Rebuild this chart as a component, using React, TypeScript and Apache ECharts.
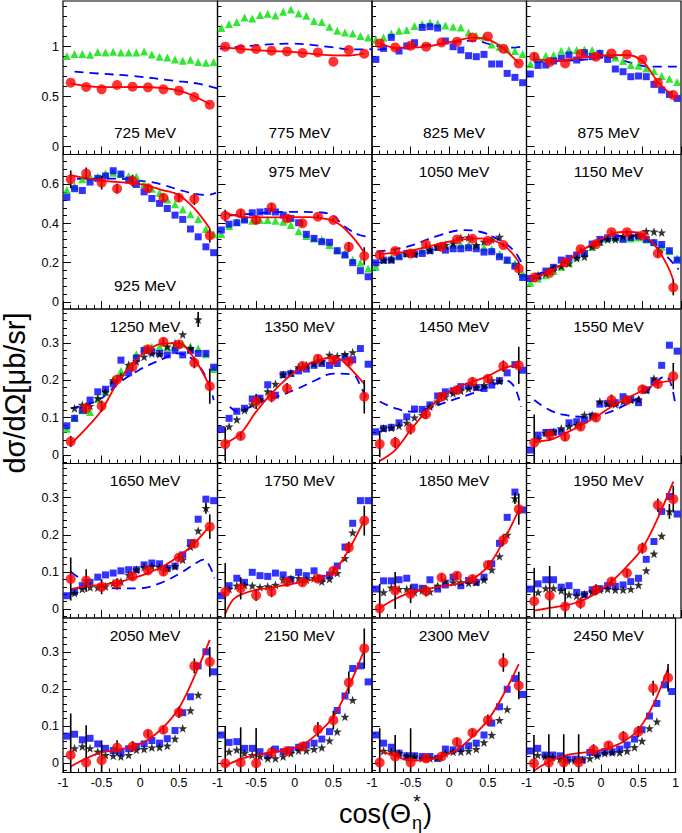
import React, { useEffect, useRef } from 'react';
import * as echarts from 'echarts';

const FONT = "'Liberation Sans', Arial, Helvetica, sans-serif";

const energies = ['725 MeV', '775 MeV', '825 MeV', '875 MeV', '925 MeV', '975 MeV', '1050 MeV', '1150 MeV',
  '1250 MeV', '1350 MeV', '1450 MeV', '1550 MeV', '1650 MeV', '1750 MeV', '1850 MeV', '1950 MeV',
  '2050 MeV', '2150 MeV', '2300 MeV', '2450 MeV'];
const labelAtBottom = [true, true, true, true, true, false, false, false, false, false, false, false, false, false, false, false, false, false, false, false];

const redX = [-0.9, -0.7, -0.5, -0.3, -0.1, 0.1, 0.3, 0.5, 0.7, 0.9];
const binX = [-0.95, -0.85, -0.75, -0.65, -0.55, -0.45, -0.35, -0.25, -0.15, -0.05, 0.05, 0.15, 0.25, 0.35, 0.45, 0.55, 0.65, 0.75, 0.85, 0.95];
const starX = [-0.85, -0.75, -0.65, -0.55, -0.45, -0.35, -0.25, -0.15, -0.05, 0.05, 0.15, 0.25, 0.35, 0.45, 0.55, 0.65, 0.75, 0.85];

const xMajorTicks = [-1, -0.5, 0, 0.5, 1];
const xMinorTicks = [-0.9, -0.8, -0.7, -0.6, -0.4, -0.3, -0.2, -0.1, 0.1, 0.2, 0.3, 0.4, 0.6, 0.7, 0.8, 0.9];
const xTickLabels = [-1, -0.5, 0, 0.5];
const xTickLabelsLast = [-1, -0.5, 0, 0.5, 1];
const yTickLabels = [[0, 0.5, 1], [0, 0.2, 0.4, 0.6], [0, 0.1, 0.2, 0.3], [0, 0.1, 0.2, 0.3], [0, 0.1, 0.2, 0.3]];
const yMinorStep = [0.1, 0.04, 0.02, 0.02, 0.02];
const yRange = [[-0.078, 1.457], [-0.037, 0.753], [-0.023, 0.391], [-0.024, 0.392], [-0.025, 0.391]];

// red circles (this work)
const redY = [
  [0.64, 0.597, 0.574, 0.617, 0.6, 0.594, 0.574, 0.56, 0.497, 0.42],
  [1.0, 0.977, 0.977, 0.96, 0.953, 0.937, 0.943, 0.85, 0.967, 0.93],
  [1.033, 0.993, 1.01, 1.0, 1.043, 1.05, 1.093, 1.103, 0.98, 0.833],
  [0.9, 0.847, 0.833, 0.927, 0.9, 0.933, 0.923, 0.873, 0.64, 0.517],
  [0.626, 0.656, 0.609, 0.578, 0.619, 0.58, 0.532, 0.532, 0.525, 0.339],
  [0.44, 0.452, 0.418, 0.483, 0.426, 0.401, 0.435, 0.418, 0.281, 0.234],
  [0.239, 0.259, 0.247, 0.293, 0.281, 0.319, 0.322, 0.312, 0.29, 0.17],
  [0.124, 0.148, 0.201, 0.269, 0.295, 0.356, 0.356, 0.339, 0.247, 0.073],
  [0.036, 0.125, 0.131, 0.202, 0.236, 0.283, 0.303, 0.296, 0.247, 0.184],
  [0.029, 0.051, 0.143, 0.156, 0.178, 0.238, 0.258, 0.254, 0.25, 0.156],
  [0.029, 0.033, 0.07, 0.109, 0.156, 0.174, 0.196, 0.204, 0.238, 0.24],
  [0.033, 0.054, 0.049, 0.076, 0.1, 0.147, 0.147, 0.176, 0.19, 0.211],
  [0.081, 0.077, 0.06, 0.068, 0.088, 0.104, 0.101, 0.139, 0.176, 0.222],
  [0.046, 0.056, 0.037, 0.047, 0.073, 0.072, 0.082, 0.103, 0.166, 0.238],
  [0.002, 0.05, 0.041, 0.049, 0.085, 0.09, 0.081, 0.119, 0.186, 0.269],
  [0.021, 0.036, 0.007, 0.016, 0.052, 0.074, 0.097, 0.164, 0.28, 0.296],
  [0.022, 0.002, 0.008, 0.042, 0.045, 0.079, 0.09, 0.137, 0.262, 0.273],
  [0.0, 0.002, 0.0, 0.029, 0.033, 0.045, 0.091, 0.116, 0.217, 0.309],
  [0.002, 0.018, 0.002, 0.013, 0.018, 0.057, 0.082, 0.116, 0.271, 0.209],
  [0.0, 0.002, 0.002, 0.002, 0.036, 0.048, 0.072, 0.085, 0.202, 0.23],
];

const redErr = [
  [0, 0, 0, 0, 0, 0, 0, 0, 0, 0],
  [0, 0, 0, 0, 0, 0, 0, 0, 0, 0],
  [0, 0, 0, 0, 0, 0, 0, 0, 0, 0],
  [0.04, 0, 0, 0, 0, 0, 0, 0, 0, 0],
  [0.045, 0.03, 0.035, 0.025, 0.03, 0.02, 0.02, 0.02, 0.03, 0.036],
  [0.03, 0.02, 0.02, 0.02, 0.015, 0.015, 0.01, 0.01, 0.025, 0.045],
  [0.02, 0.01, 0.01, 0.01, 0.01, 0.01, 0.01, 0.01, 0.01, 0.034],
  [0.01, 0.01, 0.01, 0.01, 0.01, 0.01, 0.01, 0.01, 0.02, 0.04],
  [0.015, 0.015, 0.015, 0.01, 0.01, 0.01, 0.01, 0.01, 0.015, 0.047],
  [0.045, 0.01, 0.02, 0.015, 0.015, 0.01, 0.01, 0.01, 0.01, 0.045],
  [0.035, 0.015, 0.015, 0.012, 0.01, 0.01, 0.01, 0.01, 0.015, 0.05],
  [0.075, 0.015, 0.012, 0.01, 0.01, 0.015, 0.01, 0.01, 0.01, 0.035],
  [0.058, 0.03, 0.02, 0.015, 0.01, 0.01, 0.01, 0.01, 0.01, 0.033],
  [0.078, 0.03, 0.015, 0.015, 0.01, 0.01, 0.01, 0.01, 0.015, 0.04],
  [0.066, 0.05, 0.025, 0.015, 0.01, 0.01, 0.01, 0.01, 0.015, 0.042],
  [0.09, 0.08, 0.05, 0.015, 0.015, 0.01, 0.01, 0.015, 0.018, 0.036],
  [0.112, 0.1, 0.053, 0.02, 0.015, 0.01, 0.01, 0.015, 0.02, 0.04],
  [0.1, 0.095, 0.095, 0.015, 0.01, 0.01, 0.02, 0.025, 0.03, 0.054],
  [0.092, 0.058, 0.092, 0.01, 0.01, 0.01, 0.01, 0.015, 0.025, 0.037],
  [0.076, 0.076, 0.076, 0.076, 0.015, 0.01, 0.015, 0.015, 0.02, 0.037],
];

// red solid fit curves
const redFit = [
  [[-0.9, 0.63], [-0.5, 0.595], [0, 0.597], [0.3, 0.585], [0.5, 0.56], [0.7, 0.505], [0.9, 0.425]],
  [[-0.9, 0.99], [-0.5, 0.965], [0, 0.945], [0.5, 0.913], [0.7, 0.912], [0.9, 0.933]],
  [[-0.9, 1.04], [-0.7, 0.99], [-0.5, 0.99], [-0.3, 1.0], [-0.1, 1.03], [0.1, 1.06], [0.3, 1.09], [0.5, 1.073], [0.7, 0.983], [0.9, 0.833]],
  [[-0.9, 0.873], [-0.6, 0.86], [-0.3, 0.89], [0, 0.912], [0.3, 0.917], [0.5, 0.857], [0.7, 0.65], [0.9, 0.5]],
  [[-0.9, 0.648], [-0.5, 0.619], [0, 0.602], [0.3, 0.57], [0.5, 0.545], [0.7, 0.477], [0.9, 0.375]],
  [[-0.9, 0.455], [-0.6, 0.432], [-0.2, 0.432], [0.2, 0.433], [0.45, 0.42], [0.6, 0.39], [0.75, 0.33], [0.85, 0.28], [0.9, 0.25]],
  [[-0.9, 0.244], [-0.55, 0.256], [-0.3, 0.28], [0.1, 0.315], [0.4, 0.324], [0.7, 0.29], [0.9, 0.204]],
  [[-0.93, 0.123], [-0.7, 0.153], [-0.4, 0.23], [-0.14, 0.298], [0.12, 0.349], [0.3, 0.358], [0.47, 0.349], [0.64, 0.298], [0.81, 0.196], [0.9, 0.111]],
  [[-0.9, 0.029], [-0.7, 0.071], [-0.5, 0.12], [-0.3, 0.192], [-0.1, 0.245], [0.1, 0.281], [0.3, 0.299], [0.5, 0.299], [0.7, 0.258], [0.9, 0.183]],
  [[-0.9, 0.031], [-0.7, 0.058], [-0.5, 0.116], [-0.3, 0.165], [-0.1, 0.205], [0.1, 0.236], [0.3, 0.254], [0.5, 0.261], [0.6, 0.255], [0.75, 0.225], [0.9, 0.19]],
  [[-0.9, -0.016], [-0.7, 0.013], [-0.5, 0.067], [-0.3, 0.116], [-0.1, 0.156], [0.1, 0.181], [0.3, 0.196], [0.5, 0.211], [0.7, 0.232], [0.9, 0.242]],
  [[-0.9, 0.036], [-0.7, 0.04], [-0.5, 0.058], [-0.3, 0.078], [-0.1, 0.102], [0.1, 0.129], [0.3, 0.152], [0.5, 0.172], [0.7, 0.192], [0.9, 0.2]],
  [[-0.9, 0.054], [-0.7, 0.061], [-0.5, 0.065], [-0.3, 0.072], [-0.1, 0.083], [0.1, 0.097], [0.3, 0.116], [0.5, 0.142], [0.7, 0.177], [0.9, 0.224]],
  [[-0.9, -0.013], [-0.8, 0.025], [-0.7, 0.039], [-0.5, 0.052], [-0.3, 0.058], [-0.1, 0.065], [0.1, 0.074], [0.3, 0.083], [0.5, 0.101], [0.7, 0.16], [0.9, 0.24]],
  [[-0.9, 0.003], [-0.7, 0.027], [-0.5, 0.045], [-0.3, 0.054], [-0.1, 0.061], [0.1, 0.068], [0.3, 0.081], [0.5, 0.115], [0.7, 0.182], [0.9, 0.267]],
  [[-0.9, -0.004], [-0.7, 0.003], [-0.5, 0.01], [-0.3, 0.021], [-0.1, 0.043], [0.1, 0.074], [0.3, 0.115], [0.5, 0.164], [0.7, 0.245], [0.9, 0.343]],
  [[-0.9, -0.009], [-0.7, 0.013], [-0.5, 0.029], [-0.3, 0.036], [-0.1, 0.045], [0.1, 0.063], [0.3, 0.097], [0.5, 0.148], [0.7, 0.233], [0.9, 0.332]],
  [[-0.9, -0.007], [-0.7, 0.011], [-0.5, 0.022], [-0.3, 0.029], [-0.1, 0.036], [0.1, 0.049], [0.3, 0.081], [0.5, 0.125], [0.7, 0.206], [0.9, 0.305]],
  [[-0.9, 0.033], [-0.7, 0.02], [-0.5, 0.007], [-0.3, 0.009], [-0.1, 0.018], [0.1, 0.036], [0.3, 0.072], [0.5, 0.116], [0.7, 0.184], [0.9, 0.267]],
  [[-0.9, -0.02], [-0.7, 0.004], [-0.5, 0.02], [-0.3, 0.027], [-0.1, 0.032], [0.1, 0.041], [0.3, 0.058], [0.5, 0.09], [0.7, 0.157], [0.9, 0.255]],
];

// blue dashed model curves (first 13 panels)
const blueDashed = [
  [[-0.85, 0.75], [-0.5, 0.73], [-0.09, 0.707], [0.43, 0.66], [0.75, 0.63], [1.0, 0.584]],
  [[-0.97, 0.98], [-0.45, 1.017], [-0.03, 1.03], [0.5, 0.993], [0.72, 0.973], [1.0, 0.975]],
  [[-0.93, 0.97], [-0.5, 1.0], [0, 1.04], [0.3, 1.06], [0.6, 1.01], [0.8, 0.99], [1.0, 1.01]],
  [[-0.9, 0.847], [-0.3, 0.867], [0.1, 0.893], [0.3, 0.85], [0.6, 0.8], [1.0, 0.8]],
  [[-0.82, 0.629], [-0.4, 0.63], [0.083, 0.615], [0.3, 0.597], [0.515, 0.571], [0.687, 0.554], [0.86, 0.546], [0.98, 0.557]],
  [[-0.85, 0.44], [-0.5, 0.452], [-0.1, 0.46], [0.3, 0.458], [0.5, 0.44], [0.6, 0.4], [0.7, 0.37], [0.85, 0.34], [1.0, 0.33]],
  [[-0.94, 0.256], [-0.55, 0.281], [-0.12, 0.341], [0.18, 0.366], [0.4, 0.358], [0.61, 0.324], [0.83, 0.264], [0.94, 0.196]],
  [[-0.9, 0.13], [-0.5, 0.21], [-0.15, 0.29], [0.2, 0.335], [0.45, 0.335], [0.65, 0.29], [0.82, 0.23], [0.97, 0.165]],
  [[-0.9, 0.125], [-0.54, 0.147], [-0.28, 0.192], [-0.02, 0.227], [0.3, 0.258], [0.47, 0.272], [0.69, 0.254], [0.87, 0.2], [0.95, 0.147]],
  [[-0.84, 0.129], [-0.73, 0.116], [-0.5, 0.138], [-0.23, 0.156], [0.04, 0.178], [0.27, 0.2], [0.5, 0.218], [0.75, 0.215], [0.85, 0.185], [0.95, 0.14]],
  [[-0.9, 0.143], [-0.7, 0.125], [-0.48, 0.116], [-0.22, 0.129], [0.04, 0.147], [0.3, 0.165], [0.56, 0.187], [0.73, 0.2], [0.84, 0.183], [0.93, 0.129]],
  [[-0.9, 0.147], [-0.7, 0.12], [-0.5, 0.107], [-0.24, 0.102], [0.02, 0.111], [0.28, 0.134], [0.5, 0.16], [0.7, 0.2], [0.8, 0.21], [0.87, 0.19], [0.93, 0.13]],
  [[-0.9, 0.101], [-0.78, 0.083], [-0.57, 0.065], [-0.31, 0.056], [0, 0.056], [0.26, 0.07], [0.52, 0.097], [0.73, 0.125], [0.82, 0.133], [0.9, 0.115], [0.96, 0.083]],
];

// blue squares (x = binX)
const blueSquares = [
  null,
  null,
  [0.873, 0.983, 1.093, 0.957, 1.007, 1.04, 1.193, 1.2, 1.187, 1.057, 1.0, 0.967, 0.91, 0.9, 0.923, 0.827, 0.827, 0.733, 0.693, 0.64],
  [0.727, 0.813, 0.817, 0.857, 0.883, 0.917, 0.867, 0.94, 0.9, 0.933, 0.873, 0.777, 0.75, 0.7, 0.707, 0.7, 0.623, 0.567, 0.523, 0.483],
  [0.534, 0.578, 0.569, 0.612, 0.631, 0.643, 0.67, 0.653, 0.622, 0.6, 0.562, 0.528, 0.503, 0.477, 0.443, 0.421, 0.372, 0.332, 0.281, 0.251],
  [0.367, 0.397, 0.404, 0.418, 0.455, 0.459, 0.462, 0.459, 0.443, 0.426, 0.404, 0.345, 0.324, 0.307, 0.304, 0.261, 0.239, 0.2, 0.159, 0.128],
  [0.199, 0.213, 0.213, 0.23, 0.247, 0.244, 0.247, 0.261, 0.278, 0.264, 0.271, 0.271, 0.276, 0.271, 0.254, 0.256, 0.23, 0.213, 0.182, 0.124],
  [0.119, 0.131, 0.157, 0.176, 0.213, 0.222, 0.239, 0.247, 0.295, 0.319, 0.327, 0.329, 0.319, 0.329, 0.336, 0.319, 0.302, 0.293, 0.261, 0.213],
  [0.078, 0.098, 0.12, 0.147, 0.169, 0.176, 0.19, 0.254, 0.22, 0.26, 0.28, 0.276, 0.272, 0.268, 0.28, 0.268, 0.28, 0.272, 0.272, 0.235],
  [0.068, 0.098, 0.117, 0.125, 0.15, 0.152, 0.188, 0.16, 0.215, 0.218, 0.225, 0.23, 0.24, 0.245, 0.24, 0.245, 0.262, 0.255, 0.285, 0.243],
  [0.062, 0.071, 0.074, 0.086, 0.102, 0.123, 0.122, 0.134, 0.158, 0.169, 0.172, 0.183, 0.184, 0.181, 0.178, 0.187, 0.199, 0.22, 0.242, 0.227],
  [0.013, 0.053, 0.06, 0.061, 0.062, 0.086, 0.089, 0.094, 0.104, 0.136, 0.138, 0.14, 0.156, 0.149, 0.14, 0.174, 0.196, 0.24, 0.294, 0.278],
  [0.036, 0.047, 0.063, 0.072, 0.086, 0.092, 0.097, 0.103, 0.106, 0.106, 0.119, 0.124, 0.122, 0.11, 0.116, 0.146, 0.179, 0.242, 0.296, 0.292],
  [0.036, 0.063, 0.083, 0.072, 0.099, 0.09, 0.088, 0.097, 0.092, 0.08, 0.099, 0.09, 0.103, 0.083, 0.092, 0.116, 0.167, 0.231, 0.292, 0.292],
  [0.054, 0.076, 0.076, 0.079, 0.083, 0.059, 0.056, 0.079, 0.054, 0.065, 0.086, 0.063, 0.077, 0.072, 0.086, 0.122, 0.177, 0.247, 0.315, 0.267],
  [0.054, 0.068, 0.079, 0.079, 0.059, 0.063, 0.045, 0.039, 0.052, 0.055, 0.063, 0.061, 0.065, 0.074, 0.083, 0.134, 0.182, 0.263, 0.303, 0.256],
  [0.073, 0.078, 0.063, 0.067, 0.052, 0.04, 0.034, 0.029, 0.039, 0.045, 0.052, 0.061, 0.054, 0.066, 0.088, 0.136, 0.179, 0.262, 0.3, 0.246],
  [0.076, 0.056, 0.058, 0.04, 0.04, 0.031, 0.02, 0.038, 0.031, 0.036, 0.043, 0.049, 0.054, 0.065, 0.085, 0.142, 0.181, 0.255, 0.262, 0.219],
  [0.076, 0.054, 0.043, 0.027, 0.02, 0.02, 0.018, 0.018, 0.013, 0.038, 0.036, 0.04, 0.047, 0.054, 0.076, 0.108, 0.152, 0.199, 0.228, 0.185],
  [0.033, 0.04, 0.022, 0.022, 0.02, 0.011, 0.011, 0.009, 0.029, 0.025, 0.031, 0.031, 0.038, 0.049, 0.065, 0.09, 0.127, 0.161, 0.211, 0.193],
];

// green triangles (x = binX), first 9 panels
const greenTriangles = [
  [0.907, 0.927, 0.927, 0.92, 0.947, 0.943, 0.95, 0.943, 0.943, 0.943, 0.953, 0.923, 0.9, 0.893, 0.873, 0.86, 0.87, 0.847, 0.84, 0.847],
  [1.187, 1.227, 1.247, 1.293, 1.283, 1.317, 1.33, 1.313, 1.35, 1.373, 1.333, 1.31, 1.257, 1.247, 1.2, 1.16, 1.143, 1.133, 1.107, 1.093],
  [1.073, 1.093, 1.133, 1.16, 1.167, 1.207, 1.227, 1.24, 1.233, 1.213, 1.2, 1.193, 1.143, 1.11, 1.1, 1.023, 1.0, 0.973, 0.957, 0.927],
  [0.827, 0.893, 0.91, 0.917, 0.96, 0.967, 0.967, 0.973, 0.967, 0.94, 0.927, 0.893, 0.857, 0.817, 0.81, 0.783, 0.757, 0.707, 0.68, 0.647],
  [0.571, 0.592, 0.626, 0.639, 0.639, 0.656, 0.66, 0.653, 0.643, 0.639, 0.602, 0.578, 0.557, 0.523, 0.498, 0.472, 0.448, 0.423, 0.372, 0.345],
  [0.346, 0.387, 0.409, 0.426, 0.414, 0.418, 0.418, 0.414, 0.409, 0.392, 0.361, 0.336, 0.324, 0.319, 0.29, 0.264, 0.247, 0.215, 0.2, 0.17],
  [0.179, 0.216, 0.227, 0.239, 0.25, 0.256, 0.264, 0.271, 0.281, 0.285, 0.291, 0.293, 0.291, 0.288, 0.278, 0.268, 0.244, 0.213, 0.196, 0.145],
  [0.097, 0.119, 0.136, 0.157, 0.179, 0.199, 0.23, 0.256, 0.281, 0.305, 0.324, 0.329, 0.329, 0.324, 0.329, 0.319, 0.307, 0.281, 0.26, 0.222],
  [0.07, 0.1, 0.12, 0.115, 0.15, 0.17, 0.2, 0.225, 0.24, 0.27, 0.285, 0.29, 0.29, 0.29, 0.29, 0.297, 0.291, 0.285, 0.27, 0.23],
];

// black stars (x = starX)
const blackStars = [
  null, null, null, null, null, null,
  [0.213, 0.216, null, 0.244, 0.244, null, 0.264, 0.281, 0.29, 0.298, 0.327, 0.329, 0.29, 0.307, 0.318, 0.332, null, null],
  [0.136, 0.145, 0.17, 0.182, 0.196, 0.222, 0.23, 0.281, 0.307, 0.319, 0.319, 0.336, 0.336, 0.341, 0.361, 0.358, 0.354, null],
  [0.125, 0.134, 0.131, 0.152, 0.169, 0.2, 0.211, 0.241, 0.25, 0.263, 0.272, 0.27, 0.29, 0.299, 0.323, 0.285, 0.363, null],
  [0.076, 0.095, 0.12, 0.135, 0.148, 0.17, 0.19, 0.215, 0.22, 0.235, 0.24, 0.245, 0.25, 0.268, 0.265, 0.27, 0.275, null],
  [0.071, 0.073, 0.078, 0.086, 0.1, 0.107, 0.129, 0.143, 0.156, 0.165, 0.172, 0.178, 0.181, 0.187, 0.2, 0.198, null, null],
  [0.042, 0.058, 0.062, 0.071, 0.076, 0.08, 0.107, 0.107, 0.143, 0.138, 0.136, 0.143, 0.147, 0.149, 0.174, 0.205, null, null],
  [0.043, 0.054, 0.059, 0.058, 0.061, 0.07, 0.074, 0.092, 0.106, 0.113, 0.115, 0.113, 0.11, 0.115, 0.133, 0.168, 0.211, 0.272],
  [0.054, 0.063, 0.065, 0.063, 0.059, 0.061, 0.065, 0.079, 0.082, 0.083, 0.079, 0.083, 0.074, 0.081, 0.097, 0.137, 0.206, null],
  [0.045, 0.058, 0.054, 0.054, 0.045, 0.05, 0.047, 0.063, 0.076, 0.072, 0.072, 0.07, 0.072, 0.079, 0.106, 0.142, 0.2, 0.298],
  [0.045, 0.056, 0.056, 0.05, 0.039, 0.036, 0.04, 0.047, 0.052, 0.054, 0.052, 0.052, 0.054, 0.065, 0.104, 0.149, 0.197, 0.263],
  [0.04, 0.045, 0.04, 0.031, 0.022, 0.02, 0.018, 0.022, 0.036, 0.038, 0.042, 0.043, 0.047, 0.066, 0.094, 0.142, 0.184, null],
  [0.031, 0.036, 0.027, 0.022, 0.018, 0.013, 0.013, 0.018, 0.027, 0.034, 0.034, 0.038, 0.042, 0.061, 0.085, 0.125, 0.17, null],
  [0.033, 0.031, 0.027, 0.02, 0.018, 0.013, 0.013, 0.015, 0.027, 0.031, 0.031, 0.033, 0.038, 0.056, 0.076, 0.116, 0.145, null],
  [0.022, 0.018, 0.016, 0.011, 0.007, 0.007, 0.009, 0.013, 0.02, 0.027, 0.029, 0.029, 0.033, 0.043, 0.06, 0.094, 0.112, null],
];
// [panel, x, y, half error] for a few star points with visible error bars
const starErr = [[8, 0.75, 0.363, 0.02], [12, 0.85, 0.272, 0.015], [14, 0.85, 0.298, 0.015], [15, 0.85, 0.263, 0.02]];

const STAR = 'path://M0,-10L2.35,-3.24L9.51,-3.09L3.8,1.24L5.88,8.09L0,4L-5.88,8.09L-3.8,1.24L-9.51,-3.09L-2.35,-3.24Z';

function minorTicks(row: number): number[] {
  const out: number[] = [];
  const s = yMinorStep[row];
  const [lo, hi] = yRange[row];
  for (let i = Math.ceil(lo / s - 1e-9); i * s <= hi + 1e-9; i++) out.push(Math.round(i * s * 1000) / 1000);
  return out;
}

function errRender(params: any, api: any) {
  const x = api.value(0);
  const a = api.coord([x, api.value(1)]);
  const b = api.coord([x, api.value(2)]);
  return {
    type: 'line',
    shape: { x1: a[0], y1: a[1], x2: b[0], y2: b[1] },
    style: { stroke: '#000', lineWidth: 1.6 },
  };
}

function buildOption() {
  const left0 = 63;
  const colW = 154.5;
  const rowTops = [1, 154.5, 309, 463.5, 618];
  const rowBottom = 772.5;
  const grid: any[] = [];
  const xAxis: any[] = [];
  const yAxis: any[] = [];
  const series: any[] = [];
  const graphic: any[] = [];
  const noLine = { show: false, onZero: false };

  for (let k = 0; k < 20; k++) {
    const r = Math.floor(k / 4);
    const c = k % 4;
    const left = left0 + c * colW;
    const top = rowTops[r];
    const bottom = r < 4 ? rowTops[r + 1] : rowBottom;
    grid.push({ left, top, width: colW, height: bottom - top, show: true, borderColor: '#000', borderWidth: 1.2, backgroundColor: 'rgba(0,0,0,0)' });

    const labelStyle = { fontSize: 12.5, color: '#000', fontFamily: FONT };
    xAxis.push({
      type: 'value', gridIndex: k, position: 'bottom', min: -1, max: 1,
      axisLine: noLine, splitLine: { show: false },
      axisTick: { show: true, inside: true, length: 8, customValues: xMajorTicks, lineStyle: { color: '#000', width: 1 } },
      axisLabel: { show: r === 4, customValues: c === 3 ? xTickLabelsLast : xTickLabels, formatter: (v: number) => String(v), margin: 4, ...labelStyle },
    });
    xAxis.push({
      type: 'value', gridIndex: k, position: 'bottom', min: -1, max: 1,
      axisLine: noLine, splitLine: { show: false },
      axisTick: { show: true, inside: true, length: 4, customValues: xMinorTicks, lineStyle: { color: '#000', width: 1 } },
      axisLabel: { show: false },
    });
    yAxis.push({
      type: 'value', gridIndex: k, position: 'left', min: yRange[r][0], max: yRange[r][1],
      axisLine: noLine, splitLine: { show: false },
      axisTick: { show: true, inside: true, length: 8, customValues: yTickLabels[r], lineStyle: { color: '#000', width: 1 } },
      axisLabel: { show: c === 0, customValues: yTickLabels[r], formatter: (v: number) => String(v), margin: 4, ...labelStyle },
    });
    yAxis.push({
      type: 'value', gridIndex: k, position: 'left', min: yRange[r][0], max: yRange[r][1],
      axisLine: noLine, splitLine: { show: false },
      axisTick: { show: true, inside: true, length: 4, customValues: minorTicks(r), lineStyle: { color: '#000', width: 1 } },
      axisLabel: { show: false },
    });

    const ax = { xAxisIndex: 2 * k, yAxisIndex: 2 * k };

    if (blueDashed[k]) {
      series.push({
        type: 'line', ...ax, data: blueDashed[k], smooth: 0.4, showSymbol: false, symbol: 'none',
        lineStyle: { color: '#0000ff', width: 1.8, type: [9, 6] }, z: 2, silent: true,
      });
    }
    if (greenTriangles[k]) {
      series.push({
        type: 'scatter', ...ax, symbol: 'triangle', symbolSize: 8,
        data: binX.map((x, i) => [x, greenTriangles[k][i]]).filter((d) => d[1] != null),
        itemStyle: { color: '#00e000' }, z: 3, silent: true,
      });
    }
    if (blueSquares[k]) {
      series.push({
        type: 'scatter', ...ax, symbol: 'rect', symbolSize: 7,
        data: binX.map((x, i) => [x, (blueSquares[k] as number[])[i]]).filter((d) => d[1] != null),
        itemStyle: { color: '#0000ff' }, z: 4, silent: true,
      });
    }
    if (blackStars[k]) {
      series.push({
        type: 'scatter', ...ax, symbol: STAR, symbolSize: 9,
        data: starX.map((x, i) => [x, (blackStars[k] as any[])[i]]).filter((d) => d[1] != null),
        itemStyle: { color: '#000' }, z: 5, silent: true,
      });
    }
    const se = starErr.filter((s) => s[0] === k);
    if (se.length) {
      series.push({
        type: 'custom', ...ax, renderItem: errRender, clip: true, z: 5, silent: true,
        encode: { x: 0, y: [1, 2] },
        data: se.map((s) => [s[1], s[2] - s[3], s[2] + s[3]]),
      });
    }
    series.push({
      type: 'line', ...ax, data: redFit[k], smooth: 0.35, showSymbol: false, symbol: 'none',
      lineStyle: { color: '#ff0000', width: 1.8 }, z: 6, silent: true,
    });
    const errData = redX.map((x, i) => [x, redY[k][i] - redErr[k][i], redY[k][i] + redErr[k][i], redErr[k][i]]).filter((d) => d[3] > 0);
    if (errData.length) {
      series.push({
        type: 'custom', ...ax, renderItem: errRender, clip: true, z: 7, silent: true,
        encode: { x: 0, y: [1, 2] },
        data: errData,
      });
    }
    series.push({
      type: 'scatter', ...ax, symbol: 'circle', symbolSize: 10,
      data: redX.map((x, i) => [x, redY[k][i]]),
      itemStyle: { color: '#ff0000' }, z: 8, silent: true,
    });

    graphic.push({
      type: 'text', x: left + 82, y: labelAtBottom[k] ? top + 131 : top + 17, silent: true,
      style: { text: energies[k], fontSize: 15.5, fontFamily: FONT, fill: '#000', align: 'center', verticalAlign: 'middle', textAlign: 'center', textVerticalAlign: 'middle' },
    });
  }

  graphic.push({
    type: 'text', x: 15, y: 393, rotation: Math.PI / 2, silent: true,
    style: { text: 'dσ/dΩ[μb/sr]', fontSize: 29, fontFamily: FONT, fill: '#000', align: 'center', verticalAlign: 'middle', textAlign: 'center', textVerticalAlign: 'middle' },
  });
  graphic.push({
    type: 'text', x: 411, y: 814, silent: true,
    style: { text: 'cos(Θ', fontSize: 27, fontFamily: FONT, fill: '#000', align: 'right', verticalAlign: 'middle', textAlign: 'right', textVerticalAlign: 'middle' },
  });
  graphic.push({
    type: 'text', x: 417, y: 801, silent: true,
    style: { text: '*', fontSize: 19, fontFamily: FONT, fill: '#000', align: 'center', verticalAlign: 'middle', textAlign: 'center', textVerticalAlign: 'middle' },
  });
  graphic.push({
    type: 'text', x: 417, y: 823, silent: true,
    style: { text: 'η', fontSize: 18, fontFamily: FONT, fill: '#000', align: 'center', verticalAlign: 'middle', textAlign: 'center', textVerticalAlign: 'middle' },
  });
  graphic.push({
    type: 'text', x: 423, y: 814, silent: true,
    style: { text: ')', fontSize: 27, fontFamily: FONT, fill: '#000', align: 'left', verticalAlign: 'middle', textAlign: 'left', textVerticalAlign: 'middle' },
  });

  return {
    animation: false,
    backgroundColor: '#ffffff',
    textStyle: { fontFamily: FONT },
    grid, xAxis, yAxis, series, graphic,
  };
}

export default function App() {
  const ref = useRef<HTMLDivElement>(null);
  useEffect(() => {
    document.body.style.margin = '0';
    if (!ref.current) return;
    const chart = echarts.init(ref.current, undefined, { renderer: 'svg' });
    chart.setOption(buildOption() as any);
    return () => chart.dispose();
  }, []);
  return <div ref={ref} style={{ width: 682, height: 833 }} />;
}
